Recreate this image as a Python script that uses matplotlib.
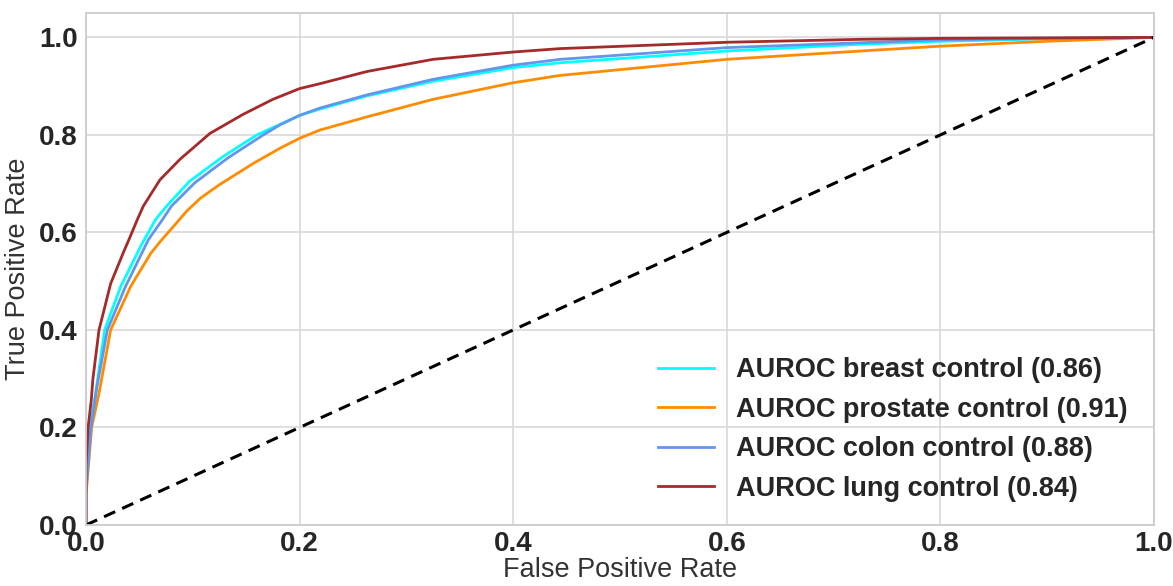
"""
ROC curves for the four cancer-vs-control classifiers.
"""

import matplotlib
matplotlib.use("Agg")
import matplotlib.pyplot as plt


# ROC operating points (false positive rate, true positive rate) per model
BREAST_FPR = [0, 0.0, 0.0037, 0.009, 0.0175, 0.0325, 0.0513, 0.065, 0.0755, 0.097,
              0.1286, 0.160, 0.182, 0.2, 0.219, 0.263, 0.325, 0.4, 0.444, 0.6,
              0.725, 0.8, 0.9, 1.0]
BREAST_TPR = [0, 0.08, 0.2, 0.27, 0.40, 0.489, 0.572, 0.626, 0.654, 0.705,
              0.756, 0.800, 0.822, 0.840, 0.853, 0.880, 0.910, 0.938, 0.948, 0.972,
              0.986, 0.992, 0.997, 1.0]

PROSTATE_FPR = [0, 0.0, 0.0053, 0.0122, 0.0231, 0.0418, 0.0606, 0.069, 0.085, 0.094,
                0.107, 0.125, 0.157, 0.182, 0.2, 0.219, 0.263, 0.325, 0.4, 0.444,
                0.6, 0.725, 0.8, 0.9, 1.0]
PROSTATE_TPR = [0, 0.06, 0.2, 0.27, 0.40, 0.489, 0.557, 0.580, 0.620, 0.643,
                0.670, 0.698, 0.742, 0.773, 0.793, 0.810, 0.837, 0.873, 0.907, 0.922,
                0.955, 0.972, 0.982, 0.992, 1.0]

COLON_FPR = [0, 0.0, 0.0047, 0.010, 0.020, 0.037, 0.0584, 0.0715, 0.080,
             0.102, 0.133, 0.166, 0.182, 0.2, 0.219, 0.263, 0.325, 0.4, 0.444,
             0.6, 0.725, 0.8, 0.9, 1.0]
COLON_TPR = [0, 0.07, 0.2, 0.28, 0.40, 0.489, 0.585, 0.626, 0.654,
             0.702, 0.753, 0.800, 0.821, 0.840, 0.855, 0.882, 0.914, 0.943, 0.955,
             0.979, 0.989, 0.995, 0.998, 1.0]

LUNG_FPR = [0, 0.0, 0.002, 0.005, 0.0065, 0.0122, 0.0231, 0.0356, 0.0396, 0.048,
            0.0537, 0.0693, 0.088, 0.116, 0.147, 0.175, 0.2, 0.219, 0.263, 0.325,
            0.4, 0.444, 0.6, 0.725, 0.8, 0.9, 1.0]
LUNG_TPR = [0, 0.12, 0.2, 0.257, 0.30, 0.40, 0.495, 0.562, 0.582, 0.626,
            0.654, 0.708, 0.750, 0.803, 0.842, 0.873, 0.895, 0.905, 0.930, 0.955,
            0.970, 0.977, 0.990, 0.996, 0.998, 0.999, 1.0]

LABELS = [
    "AUROC breast control (0.86)",
    "AUROC prostate control (0.91)",
    "AUROC colon control (0.88)",
    "AUROC lung control (0.84)",
]
COLORS = ["aqua", "darkorange", "cornflowerblue", "#a52a2a"]

TICKS = [0.0, 0.2, 0.4, 0.6, 0.8, 1.0]


def main() -> None:
    plt.rcParams["font.family"] = ["Liberation Sans", "DejaVu Sans"]
    fig = plt.figure(figsize=(11.73, 5.86), dpi=100)
    ax = fig.add_axes([0.0733, 0.1041, 0.9105, 0.8737])

    curves = [
        (BREAST_FPR, BREAST_TPR),
        (PROSTATE_FPR, PROSTATE_TPR),
        (COLON_FPR, COLON_TPR),
        (LUNG_FPR, LUNG_TPR),
    ]
    for (fpr, tpr), label, color in zip(curves, LABELS, COLORS):
        ax.plot(fpr, tpr, color=color, lw=2, label=label, solid_joinstyle="round")

    ax.plot([0, 1], [0, 1], color="black", lw=2.2, linestyle=(0, (4, 2.5)))

    ax.set_xlim(0.0, 1.0)
    ax.set_ylim(0.0, 1.05)
    ax.set_xticks(TICKS)
    ax.set_yticks(TICKS)
    ax.set_xticklabels([f"{t:.1f}" for t in TICKS])
    ax.set_yticklabels([f"{t:.1f}" for t in TICKS])
    ax.tick_params(axis="both", length=0, labelsize=20, labelcolor="#262626")
    ax.tick_params(axis="x", pad=4)
    ax.tick_params(axis="y", pad=6)
    for lbl in ax.get_xticklabels() + ax.get_yticklabels():
        lbl.set_fontweight("bold")

    ax.set_xlabel("False Positive Rate", fontsize=19.5, color="#333333", labelpad=0)
    ax.set_ylabel("True Positive Rate", fontsize=19.5, color="#333333", labelpad=6)

    ax.grid(True, color="#d6d6d6", lw=1.1)
    ax.set_axisbelow(True)
    for spine in ax.spines.values():
        spine.set_color("#cccccc")
        spine.set_linewidth(1.3)

    leg = ax.legend(
        loc="lower right",
        bbox_to_anchor=(0.997, 0.0),
        frameon=False,
        prop={"size": 19.5, "weight": "bold"},
        handlelength=2.07,
        handletextpad=0.8,
        labelspacing=0.5,
        borderaxespad=0.45,
    )
    for text in leg.get_texts():
        text.set_color("#262626")

    fig.savefig("out.png", dpi=100)
    plt.close(fig)


if __name__ == "__main__":
    main()
